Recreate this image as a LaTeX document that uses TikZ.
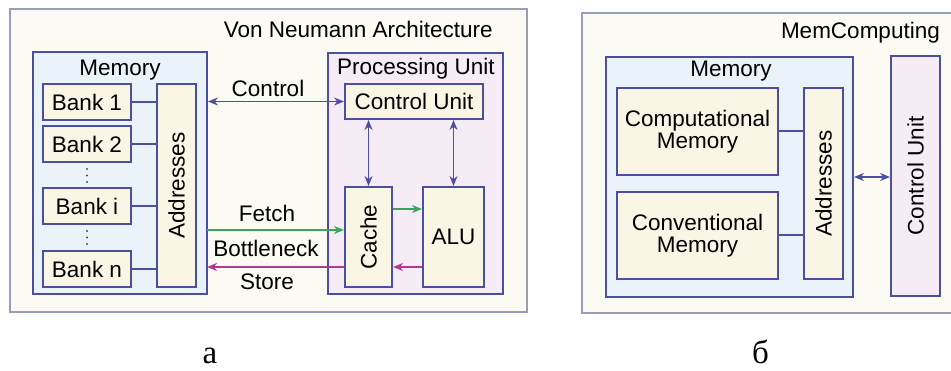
\documentclass[tikz,border=0pt]{standalone}
\usepackage{fontspec}
\setmainfont{Liberation Sans}
\newfontfamily\capfont{Liberation Serif}
\usetikzlibrary{arrows.meta, positioning}
\definecolor{frameline}{HTML}{9A9DB8}
\definecolor{framefill}{HTML}{FBFAF3}
\definecolor{boxline}{HTML}{4B4F9E}
\definecolor{memfill}{HTML}{EAF2FA}
\definecolor{cellfill}{HTML}{FAF6E5}
\definecolor{procfill}{HTML}{F6ECF5}
\definecolor{fetchcol}{HTML}{3BA55B}
\definecolor{storecol}{HTML}{B23890}
\tikzset{
  frame/.style={draw=frameline, line width=1.2pt, fill=framefill},
  grp/.style  ={rectangle, draw=boxline, line width=2pt, fill=memfill, inner sep=0pt},
  blk/.style  ={rectangle, draw=boxline, line width=2pt, fill=cellfill,
                inner sep=0pt, align=center},
  lbl/.style  ={anchor=base, inner sep=0pt},
  wire/.style ={draw=boxline, line width=2pt},
  arr/.style  ={{Stealth[length=10pt,width=8pt]}-{Stealth[length=10pt,width=8pt]},
                boxline, line width=1.8pt},
  farr/.style ={-{Stealth[length=10pt,width=8pt]}, fetchcol, line width=1.8pt},
  sarr/.style ={-{Stealth[length=10pt,width=8pt]}, storecol, line width=1.8pt}
}

\begin{document}
\begin{tikzpicture}[x=1pt, y=-1pt, font=\fontsize{22.5pt}{22pt}\selectfont]
    \useasboundingbox (0,0) rectangle (951,371);
    % panel a
    \draw[frame] (10,9) rectangle (527,312);
    \node[lbl, anchor=base east] (titleA) at (493,38) {Von Neumann Architecture};
    \node[grp, minimum width=174pt, minimum height=242pt] (memA) at (120,173) {};
    \node[lbl] (memAlbl) at (120,76) {Memory};
    \node[blk, minimum width=88pt, minimum height=36pt] (bank1) at (87,102) {Bank 1};
    \node[blk, minimum width=88pt, minimum height=36pt] (bank2) at (87,144.5) {Bank 2};
    \node[blk, minimum width=88pt, minimum height=36pt] (banki) at (87,206.5) {Bank i};
    \node[blk, minimum width=88pt, minimum height=36pt] (bankn) at (87,269.5) {Bank n};
    \fill[black!70] (87,169) circle (1.2pt) (87,175.5) circle (1.2pt) (87,182) circle (1.2pt);
    \fill[black!70] (87,231) circle (1.2pt) (87,237.5) circle (1.2pt) (87,244) circle (1.2pt);
    \node[blk, minimum width=39pt, minimum height=203pt,
          label={[rotate=90]center:Addresses}] (addrA) at (176.5,185.5) {};
    \draw[wire] (bank1.east) -- (bank1.east -| addrA.west);
    \draw[wire] (bank2.east) -- (bank2.east -| addrA.west);
    \draw[wire] (banki.east) -- (banki.east -| addrA.west);
    \draw[wire] (bankn.east) -- (bankn.east -| addrA.west);
    \node[grp, fill=procfill, minimum width=175pt, minimum height=241pt] (procA) at (415.5,173.5) {};
    \node[lbl] (procAlbl) at (416,75) {Processing Unit};
    \node[blk, minimum width=138pt, minimum height=35pt] (cuA) at (414,101.5) {Control Unit};
    \node[blk, minimum width=47pt, minimum height=100pt,
          label={[rotate=90]center:Cache}] (cache) at (368.5,237) {};
    \node[blk, minimum width=61pt, minimum height=100pt] (alu) at (453.5,237) {ALU};
    \draw[arr] (cuA.west -| memA.east) -- (cuA.west);
    \draw[arr] (cuA.south -| cache.north) -- (cache.north);
    \draw[arr] (cuA.south -| alu.north) -- (alu.north);
    \coordinate (fetchIn) at (207,230);
    \coordinate (storeOut) at (207,267);
    \draw[farr] (fetchIn) -- (fetchIn -| cache.west);
    \draw[sarr] (storeOut -| cache.west) -- (storeOut);
    \draw[farr] (cache.east |- 0,209) -- (alu.west |- 0,209);
    \draw[sarr] (alu.west |- 0,267) -- (cache.east |- 0,267);
    \node[lbl] (ctrlLbl) at (268,97) {Control};
    \node[lbl] (fetchLbl) at (267,222) {Fetch};
    \node[lbl] (neckLbl) at (266,257) {Bottleneck};
    \node[lbl] (storeLbl) at (267,290) {Store};
    % panel b
    \fill[framefill] (582,13) rectangle (952,313);
    \draw[frameline, line width=1.2pt] (952,13) -| (582,313) -- (952,313);
    \node[lbl, anchor=base east] (titleB) at (940,39) {MemComputing};
    \node[grp, minimum width=247pt, minimum height=240pt] (memB) at (729.5,177) {};
    \node[lbl] (memBlbl) at (731,77) {Memory};
    \node[blk, minimum width=161pt, minimum height=87pt] (compMem) at (697.5,131.5) {Computational\\Memory};
    \node[blk, minimum width=161pt, minimum height=87pt] (convMem) at (697.5,235.5) {Conventional\\Memory};
    \node[blk, minimum width=39pt, minimum height=191pt,
          label={[rotate=90]center:Addresses}] (addrB) at (823.5,183.5) {};
    \draw[wire] (compMem.east) -- (compMem.east -| addrB.west);
    \draw[wire] (convMem.east) -- (convMem.east -| addrB.west);
    \node[blk, fill=procfill, minimum width=49pt, minimum height=240pt,
          label={[rotate=90]center:Control Unit}] (cuB) at (915.5,176) {};
    \draw[arr] (memB.east) -- (memB.east -| cuB.west);
    % captions
    \node[lbl] (capA) at (210,364) {\capfont\fontsize{33pt}{33pt}\selectfont а};
    \node[lbl] (capB) at (760.5,364) {\capfont\fontsize{33pt}{33pt}\selectfont б};
  \end{tikzpicture}
\end{document}
